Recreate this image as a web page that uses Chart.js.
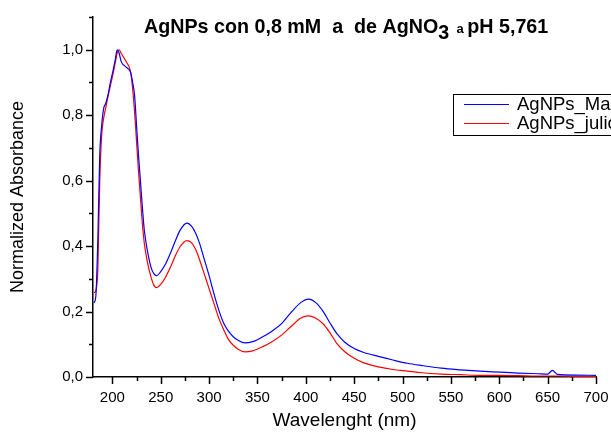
<!DOCTYPE html>
<html>
<head>
<meta charset="utf-8">
<script src="https://cdn.jsdelivr.net/npm/chart.js"></script>
<style>
  body { margin: 0; background: #fff; }
  canvas { display: block; }
</style>
</head>
<body>
<canvas id="chart" width="611" height="433"></canvas>
<script>
// wavelengths (nm) shared by both spectra
var wavelengths = [181, 183, 185, 187, 189, 191, 193, 195, 198, 201, 203, 205, 207, 209, 211, 213, 215, 217, 219, 221,
  223, 225, 227, 229, 231, 233, 236, 240, 243, 246, 250, 255, 260, 265, 270, 277, 282, 286, 290, 295,
  300, 305, 310, 315, 320, 325, 330, 337, 345, 355, 365, 375, 385, 395, 403, 410, 418, 425, 432, 440,
  450, 460, 475, 490, 505, 520, 540, 560, 580, 600, 620, 640, 650, 655, 660, 680, 700];

var absMarch = [0.226, 0.25, 0.42, 0.68, 0.77, 0.82, 0.835, 0.855, 0.90, 0.94, 0.97, 1.0, 0.99, 0.965, 0.955, 0.95, 0.945, 0.94, 0.93, 0.90,
  0.86, 0.77, 0.68, 0.60, 0.52, 0.45, 0.39, 0.335, 0.315, 0.31, 0.322, 0.345, 0.378, 0.415, 0.448, 0.47, 0.46, 0.44, 0.41, 0.36,
  0.31, 0.255, 0.205, 0.165, 0.14, 0.123, 0.112, 0.104, 0.108, 0.122, 0.14, 0.163, 0.198, 0.228, 0.238, 0.228, 0.20, 0.165, 0.133, 0.107,
  0.087, 0.075, 0.063, 0.052, 0.042, 0.035, 0.027, 0.022, 0.018, 0.015, 0.012, 0.010, 0.009, 0.020, 0.008, 0.006, 0.005];

var absJuly = [0.257, 0.265, 0.33, 0.60, 0.74, 0.79, 0.82, 0.85, 0.89, 0.93, 0.96, 0.99, 1.0, 0.99, 0.98, 0.97, 0.96, 0.95, 0.93, 0.88,
  0.81, 0.72, 0.63, 0.55, 0.47, 0.41, 0.355, 0.305, 0.28, 0.273, 0.283, 0.305, 0.335, 0.37, 0.398, 0.417, 0.41, 0.39, 0.36, 0.315,
  0.27, 0.225, 0.18, 0.145, 0.115, 0.097, 0.085, 0.077, 0.08, 0.092, 0.108, 0.128, 0.155, 0.18, 0.187, 0.18, 0.162, 0.135, 0.103, 0.078,
  0.057, 0.043, 0.031, 0.023, 0.018, 0.013, 0.009, 0.007, 0.005, 0.005, 0.004, 0.003, 0.003, 0.003, 0.003, 0.002, 0.002];

var seriesNames = ['AgNPs_Marzo', 'AgNPs_julio'];
var seriesColors = ['#0000ff', '#ff0000'];

var xMin = 180, xMax = 700, xMinor = 25, xMajor = 50;
var yMin = 0, yMax = 1.1, yMinor = 0.1, yMajor = 0.2;

var fontFamily = '"Liberation Sans", Arial, sans-serif';

function toPoints(ys) {
  var pts = [];
  for (var i = 0; i < wavelengths.length; i++) pts.push({ x: wavelengths[i], y: ys[i] });
  return pts;
}

function isMajor(v, step) {
  var r = v / step;
  return Math.abs(r - Math.round(r)) < 1e-6;
}

// ticks drawn by hand so that minor ones can be shorter
var tickPlugin = {
  id: 'ticks',
  afterDraw: function(chart) {
    var ctx = chart.ctx;
    var xs = chart.scales.x, ys = chart.scales.y;
    var area = chart.chartArea;
    ctx.save();
    ctx.strokeStyle = '#000';
    ctx.lineWidth = 1.5;
    xs.ticks.forEach(function(t) {
      var px = Math.round(xs.getPixelForValue(t.value)) + 0.5;
      var len = isMajor(t.value, xMajor) ? 7 : 4;
      ctx.beginPath();
      ctx.moveTo(px, area.bottom);
      ctx.lineTo(px, area.bottom + len);
      ctx.stroke();
    });
    ys.ticks.forEach(function(t) {
      var py = Math.round(ys.getPixelForValue(t.value)) + 0.5;
      var len = isMajor(t.value, yMajor) ? 7 : 4;
      ctx.beginPath();
      ctx.moveTo(area.left, py);
      ctx.lineTo(area.left - len, py);
      ctx.stroke();
    });
    ctx.restore();
  }
};

// title with subscript and small "a", plus the boxed legend cut off at the right edge
var textPlugin = {
  id: 'texts',
  afterDraw: function(chart) {
    var ctx = chart.ctx;
    ctx.save();
    ctx.fillStyle = '#000';
    ctx.textBaseline = 'alphabetic';
    var x = 144, base = 33;
    var parts = [
      { t: 'AgNPs con 0,8 mM  a  de AgNO', f: 'bold 19.7px ' + fontFamily, dy: 0 },
      { t: '3', f: 'bold 19.7px ' + fontFamily, dy: 6 },
      { t: '  a ', f: 'bold 13px ' + fontFamily, dy: 0 },
      { t: 'pH 5,761', f: 'bold 19.7px ' + fontFamily, dy: 0 }
    ];
    parts.forEach(function(p) {
      ctx.font = p.f;
      ctx.fillText(p.t, x, base + p.dy);
      x += ctx.measureText(p.t).width;
    });

    // legend
    var lx = 453, ly = 94, lw = 200, lh = 41;
    ctx.strokeStyle = '#000';
    ctx.lineWidth = 1;
    ctx.strokeRect(lx + 0.5, ly + 0.5, lw, lh);
    ctx.font = '18.5px ' + fontFamily;
    ctx.textBaseline = 'middle';
    for (var i = 0; i < seriesNames.length; i++) {
      var yy = ly + 10 + i * 19;
      ctx.strokeStyle = seriesColors[i];
      ctx.lineWidth = 1.2;
      ctx.beginPath();
      ctx.moveTo(464, yy + 0.5);
      ctx.lineTo(509, yy + 0.5);
      ctx.stroke();
      ctx.fillText(seriesNames[i], 517, yy + 1);
    }
    ctx.restore();
  }
};

new Chart(document.getElementById('chart'), {
  type: 'line',
  data: {
    datasets: [
      { label: seriesNames[0], data: toPoints(absMarch), borderColor: seriesColors[0], borderWidth: 1.2, pointRadius: 0, cubicInterpolationMode: 'monotone', fill: false },
      { label: seriesNames[1], data: toPoints(absJuly), borderColor: seriesColors[1], borderWidth: 1.2, pointRadius: 0, cubicInterpolationMode: 'monotone', fill: false }
    ]
  },
  options: {
    responsive: false,
    animation: false,
    layout: { padding: { top: 17, right: 15, left: 0, bottom: 0 } },
    plugins: {
      legend: { display: false },
      title: { display: false },
      tooltip: { enabled: false }
    },
    scales: {
      x: {
        type: 'linear',
        min: xMin,
        max: xMax,
        afterBuildTicks: function(scale) {
          var t = [];
          for (var v = Math.ceil(xMin / xMinor) * xMinor; v <= xMax; v += xMinor) t.push({ value: v });
          scale.ticks = t;
        },
        afterFit: function(scale) {
          scale.height = 56;
          scale.paddingLeft = 0;
          scale.paddingRight = 0;
        },
        grid: { drawOnChartArea: false, drawTicks: false },
        border: { display: true, color: '#000', width: 1.5 },
        ticks: {
          padding: 12,
          color: '#000',
          maxRotation: 0,
          autoSkip: false,
          font: { family: fontFamily, size: 15 },
          callback: function(v) { return isMajor(v, xMajor) ? String(v) : ''; }
        },
        title: {
          display: true,
          text: 'Wavelenght (nm)',
          color: '#000',
          font: { family: fontFamily, size: 19 },
          padding: { top: 0, bottom: 1 }
        }
      },
      y: {
        type: 'linear',
        min: yMin,
        max: yMax,
        afterBuildTicks: function(scale) {
          var t = [];
          for (var i = 0; i <= Math.round((yMax - yMin) / yMinor); i++) t.push({ value: +(yMin + i * yMinor).toFixed(1) });
          scale.ticks = t;
        },
        afterFit: function(scale) {
          scale.width = 93;
          scale.paddingTop = 0;
          scale.paddingBottom = 0;
        },
        grid: { drawOnChartArea: false, drawTicks: false },
        border: { display: true, color: '#000', width: 1.5 },
        ticks: {
          padding: 10,
          color: '#000',
          autoSkip: false,
          font: { family: fontFamily, size: 15 },
          callback: function(v) { return isMajor(v, yMajor) ? v.toFixed(1).replace('.', ',') : ''; }
        },
        title: {
          display: true,
          text: 'Normalized Absorbance',
          color: '#000',
          font: { family: fontFamily, size: 18 },
          padding: { top: 7, bottom: 0 }
        }
      }
    }
  },
  plugins: [tickPlugin, textPlugin]
});
</script>
</body>
</html>
